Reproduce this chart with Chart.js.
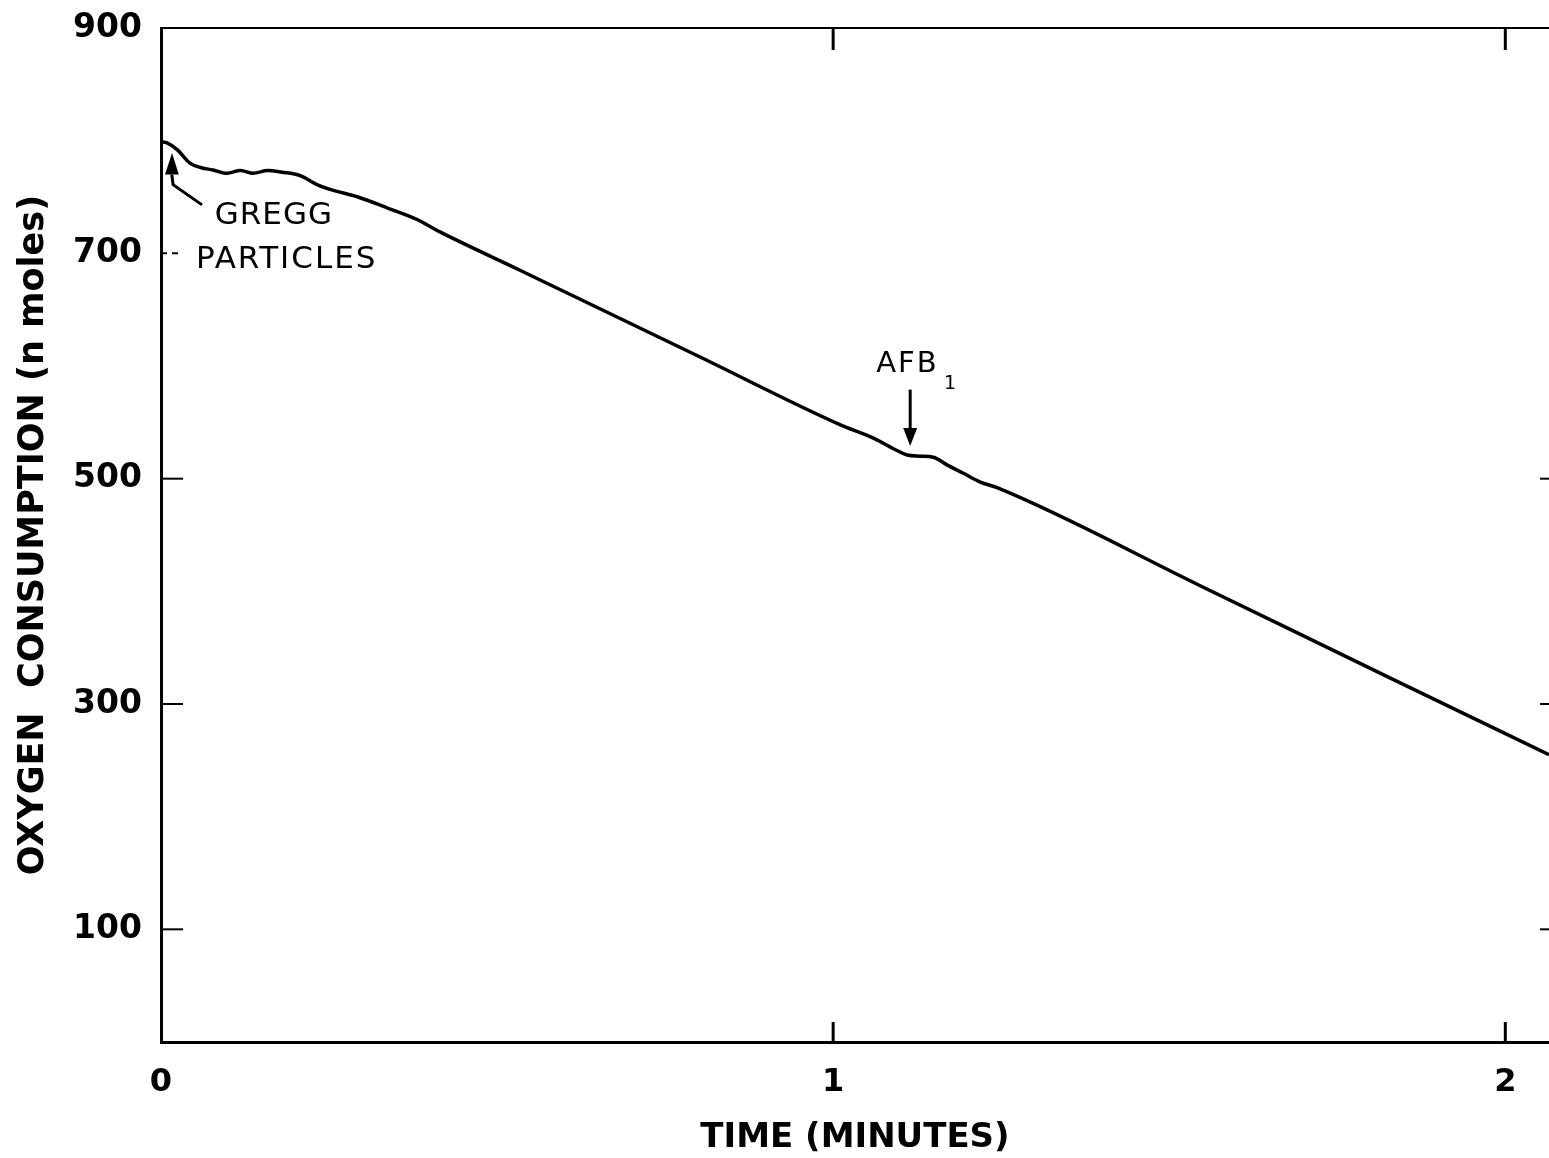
<!DOCTYPE html>
<html>
<head>
<meta charset="utf-8">
<script src="https://cdn.jsdelivr.net/npm/chart.js@4.4.1/dist/chart.umd.min.js"></script>
<style>
    html, body { margin: 0; padding: 0; background: #fff; }
    canvas { display: block; }
</style>
</head>
<body>
<canvas id="graphiqueOxygene" width="1549" height="1158"></canvas>
<script>
// Temps (minutes) et consommation d'oxygène (n moles)
const temps = [0, 0.009, 0.024, 0.043, 0.060, 0.077, 0.098, 0.118, 0.137, 0.159, 0.180, 0.207,
    0.232, 0.250, 0.293, 0.338, 0.381, 0.415, 0.534, 0.802, 1.010, 1.060, 1.095, 1.110, 1.129,
    1.149, 1.170, 1.193, 1.219, 1.244, 1.546, 1.829, 2.065];
const oxygene = [799, 798, 792, 780, 776, 774, 771, 773.5, 771, 773.5, 772, 769,
    761, 757, 750, 740, 730, 719, 685, 608, 548, 536, 525, 521, 520,
    519, 512, 505, 497, 492, 405, 323, 255];

const ticksX = [0, 1, 2];
const ticksY = [100, 300, 500, 700, 900];
const ticksDroite = [100, 300, 500];
const ticksHautBas = [1, 2];

const police = "'DejaVu Sans', sans-serif";

// Cadre, petits traits vers l'intérieur et annotations
const cadreEtNotes = {
    id: 'cadreEtNotes',
    afterDraw(chart) {
        const ctx = chart.ctx;
        const sx = chart.scales.x;
        const sy = chart.scales.y;
        const X = v => sx.getPixelForValue(v);
        const Y = v => sy.getPixelForValue(v);

        ctx.save();
        ctx.strokeStyle = '#000';
        ctx.fillStyle = '#000';
        ctx.lineCap = 'butt';

        // ligne du haut
        ctx.lineWidth = 2;
        ctx.beginPath();
        ctx.moveTo(sx.left, Y(900));
        ctx.lineTo(sx.right, Y(900));
        ctx.stroke();

        // traits à gauche
        ctx.lineWidth = 2;
        [100, 300, 500].forEach(v => {
            ctx.beginPath();
            ctx.moveTo(sx.left, Y(v));
            ctx.lineTo(sx.left + 22, Y(v));
            ctx.stroke();
        });
        ctx.setLineDash([6, 5]);
        ctx.beginPath();
        ctx.moveTo(sx.left, Y(700));
        ctx.lineTo(sx.left + 22, Y(700));
        ctx.stroke();
        ctx.setLineDash([]);

        // traits à droite
        ticksDroite.forEach(v => {
            ctx.beginPath();
            ctx.moveTo(sx.right - 9, Y(v));
            ctx.lineTo(sx.right, Y(v));
            ctx.stroke();
        });

        // traits en haut et en bas
        ctx.lineWidth = 3;
        ticksHautBas.forEach(t => {
            ctx.beginPath();
            ctx.moveTo(X(t), sy.top);
            ctx.lineTo(X(t), sy.top + 22);
            ctx.moveTo(X(t), sy.bottom);
            ctx.lineTo(X(t), sy.bottom - 20);
            ctx.stroke();
        });

        // flèche GREGG PARTICLES
        ctx.lineWidth = 3;
        ctx.beginPath();
        ctx.moveTo(X(0.061), Y(743));
        ctx.lineTo(X(0.018), Y(761));
        ctx.lineTo(X(0.016), Y(770));
        ctx.stroke();
        ctx.beginPath();
        ctx.moveTo(X(0.0164), Y(789));
        ctx.lineTo(X(0.0265), Y(770));
        ctx.lineTo(X(0.0060), Y(770));
        ctx.closePath();
        ctx.fill();

        // flèche AFB1
        ctx.beginPath();
        ctx.moveTo(X(1.1146), Y(579));
        ctx.lineTo(X(1.1146), Y(540));
        ctx.stroke();
        ctx.beginPath();
        ctx.moveTo(X(1.1146), Y(529));
        ctx.lineTo(X(1.1250), Y(545));
        ctx.lineTo(X(1.1042), Y(545));
        ctx.closePath();
        ctx.fill();

        // textes
        ctx.textBaseline = 'middle';
        ctx.textAlign = 'left';
        ctx.font = '31px ' + police;
        ctx.letterSpacing = '1px';
        ctx.fillText('GREGG', X(0.080), Y(733));
        ctx.letterSpacing = '2px';
        ctx.fillText('PARTICLES', X(0.052), Y(694));
        ctx.font = '29px ' + police;
        ctx.fillText('AFB', X(1.064), Y(601));
        ctx.letterSpacing = '0px';
        ctx.font = '19px ' + police;
        ctx.fillText('1', X(1.165), Y(584));
        ctx.restore();
    }
};

new Chart(document.getElementById('graphiqueOxygene').getContext('2d'), {
    type: 'line',
    data: {
        datasets: [{
            label: 'Consommation d\'oxygène',
            data: temps.map((t, i) => ({ x: t, y: oxygene[i] })),
            borderColor: '#000',
            borderWidth: 3.5,
            pointRadius: 0,
            fill: false,
            cubicInterpolationMode: 'monotone'
        }]
    },
    options: {
        responsive: false,
        animation: false,
        layout: { padding: { top: 28, right: 0, left: 0, bottom: 0 } },
        plugins: {
            legend: { display: false },
            tooltip: { enabled: false }
        },
        scales: {
            x: {
                type: 'linear',
                min: 0,
                max: 2.065,
                afterBuildTicks: s => { s.ticks = ticksX.map(v => ({ value: v })); },
                afterFit: s => { s.height = 116; s.paddingLeft = 0; s.paddingRight = 0; },
                grid: { drawOnChartArea: false, drawTicks: false },
                border: { display: true, color: '#000', width: 3 },
                ticks: {
                    color: '#000',
                    padding: 21,
                    maxRotation: 0,
                    autoSkip: false,
                    font: { family: police, size: 32, weight: 'bold' }
                },
                title: {
                    display: true,
                    text: 'TIME (MINUTES)',
                    color: '#000',
                    padding: { top: 0, bottom: 3 },
                    font: { family: police, size: 34, weight: 'bold', lineHeight: 1 }
                }
            },
            y: {
                min: 0,
                max: 900,
                afterBuildTicks: s => { s.ticks = ticksY.map(v => ({ value: v })); },
                afterFit: s => { s.width = 161; s.paddingTop = 0; s.paddingBottom = 0; },
                grid: { drawOnChartArea: false, drawTicks: false },
                border: { display: true, color: '#000', width: 3 },
                ticks: {
                    color: '#000',
                    padding: 19,
                    font: { family: police, size: 33, weight: 'bold' }
                },
                title: {
                    display: true,
                    text: 'OXYGEN  CONSUMPTION (n moles)',
                    color: '#000',
                    padding: { top: 16, bottom: 0 },
                    font: { family: police, size: 35, weight: 'bold', lineHeight: 1 }
                }
            }
        }
    },
    plugins: [cadreEtNotes]
});
</script>
</body>
</html>
